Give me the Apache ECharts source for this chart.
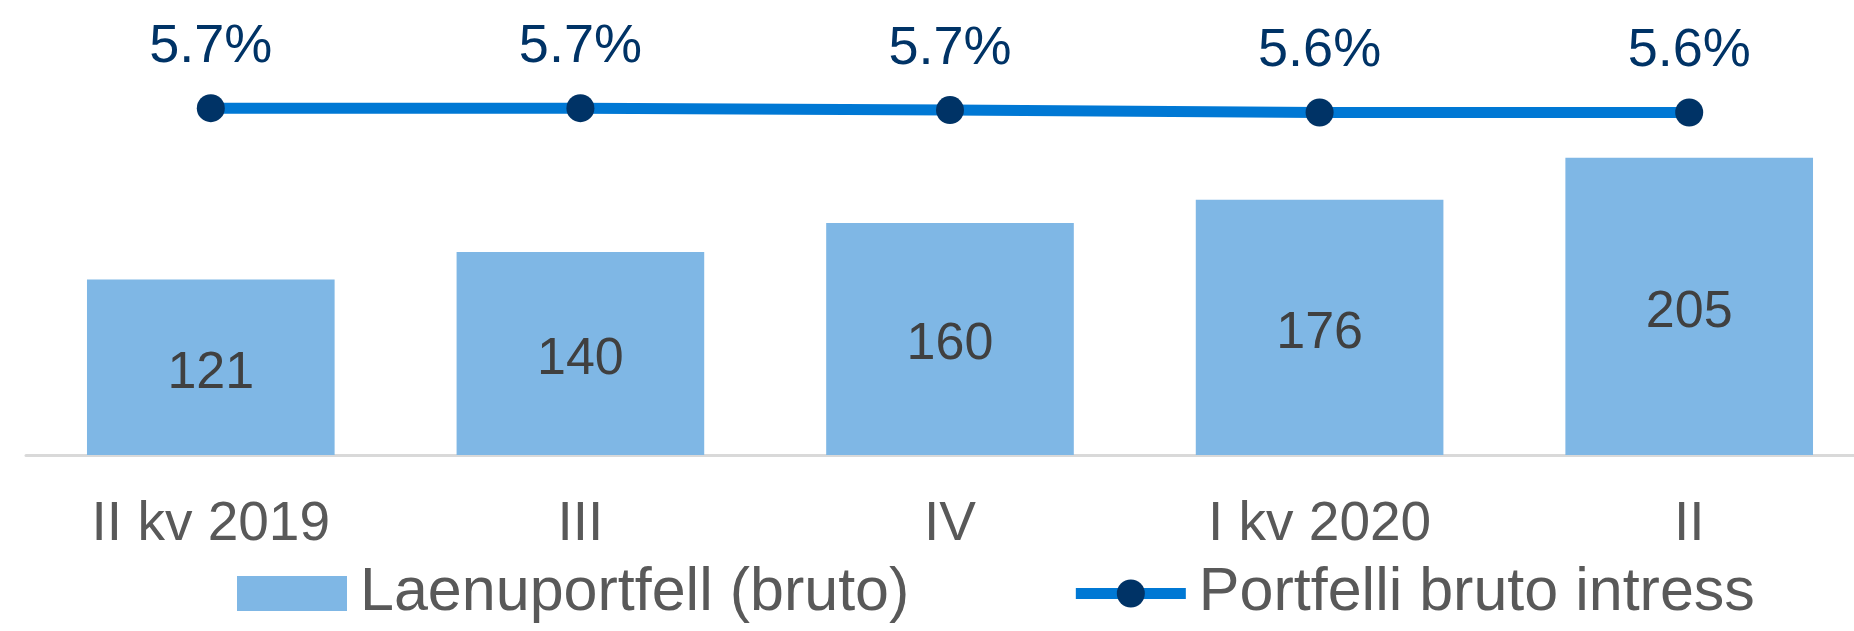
<!DOCTYPE html>
<html>
<head>
<meta charset="utf-8">
<script src="https://cdn.jsdelivr.net/npm/echarts@6/dist/echarts.min.js"></script>
<style>
html,body{margin:0;padding:0;background:#fff;}
#main{width:1854px;height:631px;}
</style>
</head>
<body>
<div id="main"></div>
<script>
var categories = ['II kv 2019', 'III', 'IV', 'I kv 2020', 'II'];
var portfolio = [121, 140, 160, 176, 205];
var interest = [5.70, 5.70, 5.67, 5.63, 5.63];

window.onload = function () {
	var myChart = echarts.init(document.getElementById('main'));
	myChart.setOption({
		animation: false,
		textStyle: { fontFamily: 'Liberation Sans' },
		legend: {
			left: 232,
			top: 558,
			itemWidth: 110,
			itemHeight: 35,
			itemGap: 161,
			textStyle: {
				fontSize: 61,
				color: '#595959',
				fontFamily: 'Liberation Sans',
				padding: [0, 0, 0, 8]
			},
			data: [
				{ name: 'Laenuportfell (bruto)', icon: 'rect' },
				{ name: 'Portfelli bruto intress', lineStyle: { width: 11 } }
			]
		},
		grid: {
			left: 26,
			right: -20,
			top: 20,
			bottom: 176,
			outerBoundsMode: 'none'
		},
		xAxis: {
			type: 'category',
			data: categories,
			axisTick: { show: false },
			axisLine: { lineStyle: { color: '#d9d9d9', width: 3 } },
			axisLabel: {
				color: '#595959',
				fontSize: 55,
				margin: 42,
				fontFamily: 'Liberation Sans'
			}
		},
		yAxis: [{
			type: 'value',
			min: 0,
			max: 300,
			show: false,
			splitLine: { show: false }
		}, {
			type: 'value',
			min: 0,
			max: 7.15,
			show: false,
			splitLine: { show: false }
		}],
		series: [{
			name: 'Laenuportfell (bruto)',
			type: 'bar',
			barCategoryGap: '33%',
			itemStyle: { color: '#7fb7e5' },
			label: {
				show: true,
				position: 'inside',
				offset: [0, 6],
				color: '#404040',
				fontSize: 52,
				fontFamily: 'Liberation Sans'
			},
			data: portfolio
		}, {
			name: 'Portfelli bruto intress',
			type: 'line',
			yAxisIndex: 1,
			symbol: 'circle',
			symbolSize: 28,
			itemStyle: { color: '#003366' },
			lineStyle: { color: '#0078d4', width: 11 },
			label: {
				show: true,
				position: 'top',
				distance: 20,
				color: '#003366',
				fontSize: 54,
				fontFamily: 'Liberation Sans',
				formatter: function (p) { return p.value.toFixed(1) + '%'; }
			},
			data: interest
		}]
	});
};
</script>
</body>
</html>
